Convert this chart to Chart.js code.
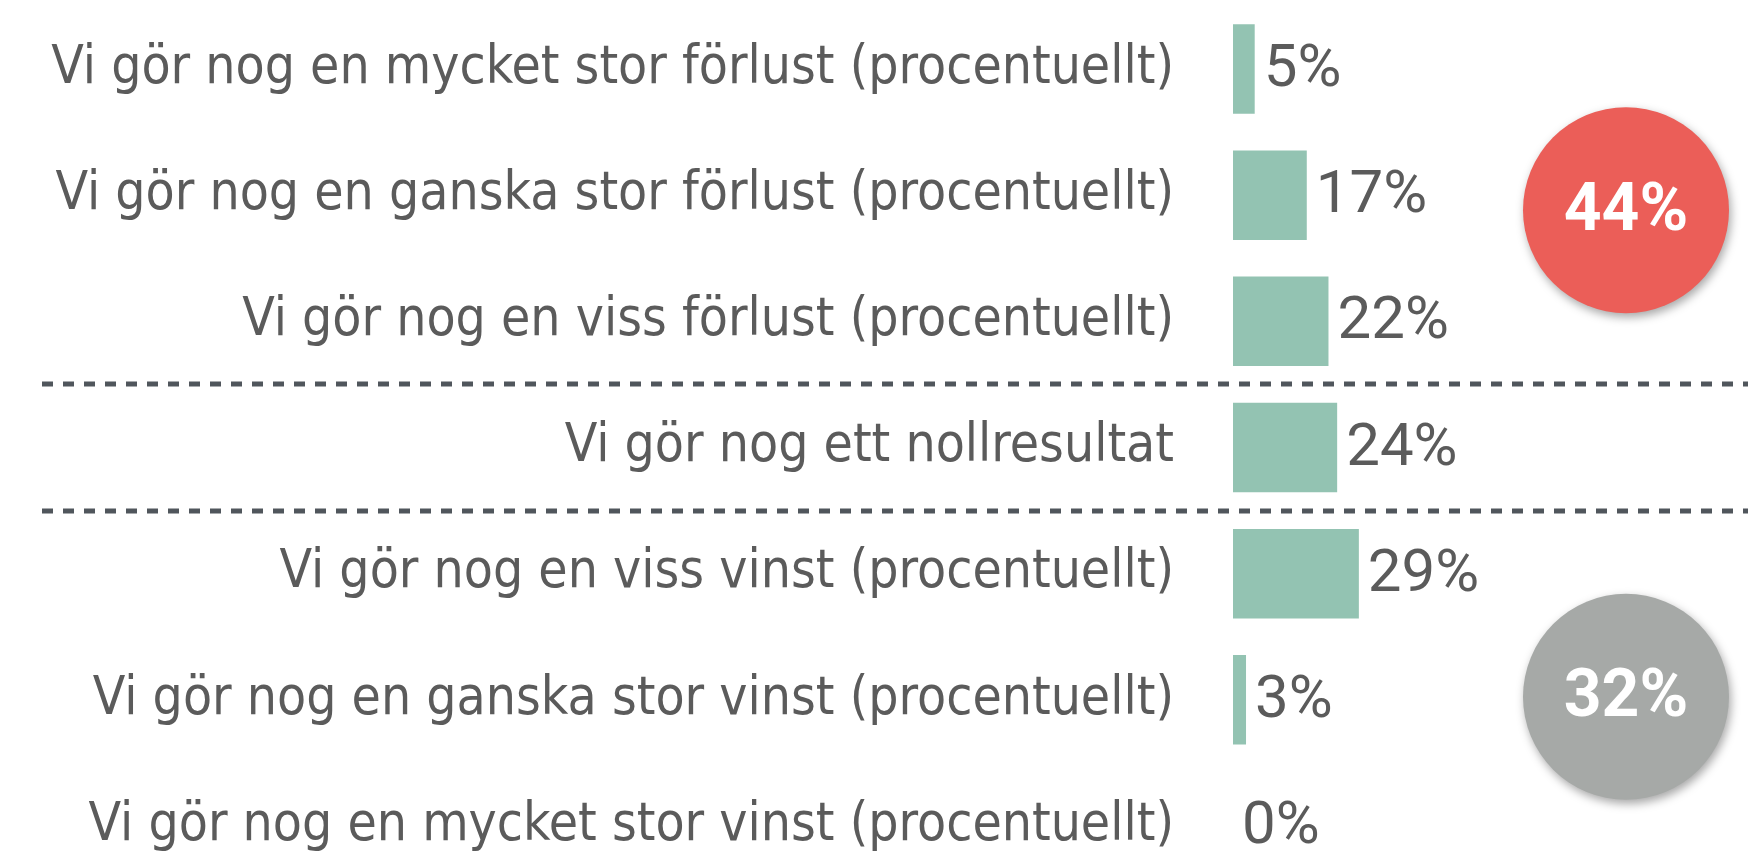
<!DOCTYPE html>
<html>
<head>
<meta charset="utf-8">
<script src="https://cdn.jsdelivr.net/npm/chart.js@4"></script>
<style>
  html, body { margin: 0; padding: 0; background: #ffffff; }
  #wrap { width: 1748px; height: 856px; }
</style>
</head>
<body>
<div id="wrap"><canvas id="chart"></canvas></div>
<script>
// Data
const categories = [
  'Vi gör nog en mycket stor förlust (procentuellt)',
  'Vi gör nog en ganska stor förlust (procentuellt)',
  'Vi gör nog en viss förlust (procentuellt)',
  'Vi gör nog ett nollresultat',
  'Vi gör nog en viss vinst (procentuellt)',
  'Vi gör nog en ganska stor vinst (procentuellt)',
  'Vi gör nog en mycket stor vinst (procentuellt)'
];
const values = [5, 17, 22, 24, 29, 3, 0];
const lossGroup = [0, 1, 2];
const profitGroup = [4, 5, 6];

const textColor = '#5b5b5b';
const labelFont = '"Liberation Sans Narrow", "DejaVu Sans Condensed", "Roboto Condensed", sans-serif';

// Value labels, dashed separators and summary circles
const decorations = {
  id: 'decorations',
  afterDatasetsDraw(chart) {
    const ctx = chart.ctx;
    const x = chart.scales.x;
    const y = chart.scales.y;

    // dashed separators around the zero-result row
    ctx.save();
    ctx.strokeStyle = '#50565c';
    ctx.lineWidth = 5;
    ctx.setLineDash([11, 10]);
    [2, 3].forEach(i => {
      const yy = Math.round((y.getPixelForValue(i) + y.getPixelForValue(i + 1)) / 2);
      ctx.beginPath();
      ctx.moveTo(42, yy);
      ctx.lineTo(chart.width, yy);
      ctx.stroke();
    });
    ctx.restore();

    // value labels
    ctx.save();
    ctx.fillStyle = textColor;
    ctx.font = '60px Roboto, sans-serif';
    ctx.textAlign = 'left';
    ctx.textBaseline = 'middle';
    values.forEach((v, i) => {
      ctx.fillText(v + '%', x.getPixelForValue(v) + 9, y.getPixelForValue(i) + 2);
    });
    ctx.restore();

    // summary circles
    const sum = idx => idx.reduce((s, i) => s + values[i], 0);
    const circles = [
      { total: sum(lossGroup), cy: y.getPixelForValue(1) + 15, color: '#eb5e58' },
      { total: sum(profitGroup), cy: y.getPixelForValue(5) - 3, color: '#a6a9a7' }
    ];
    circles.forEach(c => {
      ctx.save();
      ctx.shadowColor = 'rgba(0,0,0,0.35)';
      ctx.shadowBlur = 10;
      ctx.shadowOffsetX = 2;
      ctx.shadowOffsetY = 4;
      ctx.fillStyle = c.color;
      ctx.beginPath();
      ctx.arc(1626, c.cy, 103, 0, Math.PI * 2);
      ctx.fill();
      ctx.restore();
      ctx.save();
      ctx.fillStyle = '#ffffff';
      ctx.font = 'bold 66px Roboto, sans-serif';
      ctx.textAlign = 'center';
      ctx.textBaseline = 'middle';
      ctx.fillText(c.total + '%', 1626, c.cy + 3);
      ctx.restore();
    });
  }
};

new Chart(document.getElementById('chart'), {
  type: 'bar',
  data: {
    labels: categories,
    datasets: [{
      data: values,
      backgroundColor: '#93c3b2',
      borderWidth: 0,
      barPercentage: 0.71,
      categoryPercentage: 1,
      clip: false
    }]
  },
  plugins: [decorations],
  options: {
    indexAxis: 'y',
    responsive: true,
    maintainAspectRatio: false,
    animation: false,
    layout: { padding: { top: 69, bottom: 30, right: 81, left: 0 } },
    plugins: {
      legend: { display: false },
      tooltip: { enabled: false }
    },
    scales: {
      x: {
        type: 'linear',
        min: 0,
        max: 100,
        display: false
      },
      y: {
        offset: false,
        grid: { display: false, drawTicks: false },
        border: { display: false },
        afterFit(scale) {
          scale.width = 1233;
          scale.paddingTop = 0;
          scale.paddingBottom = 0;
        },
        ticks: {
          color: textColor,
          padding: 59,
          font: { family: labelFont, size: 53, lineHeight: 0.1 },
          crossAlign: 'near'
        }
      }
    }
  }
});
</script>
</body>
</html>
